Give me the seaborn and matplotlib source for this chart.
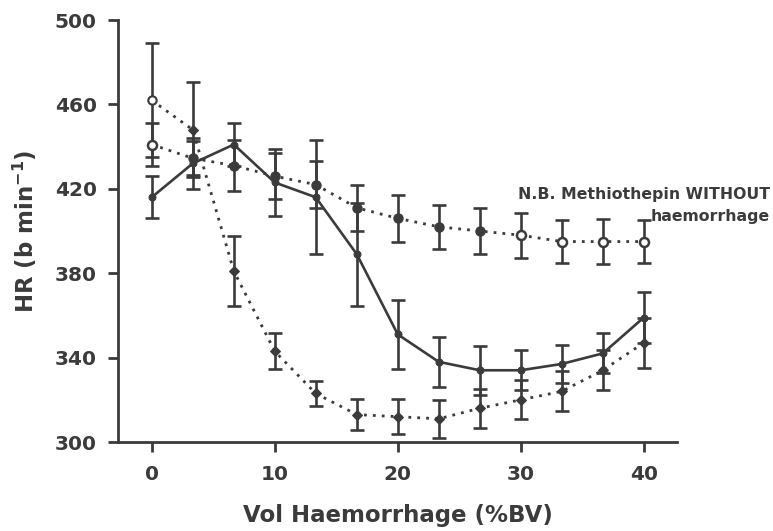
import numpy as np
import pandas as pd
import matplotlib
matplotlib.use("Agg")
import matplotlib.pyplot as plt
import seaborn as sns

# Volume of blood withdrawn (% of blood volume)
vol_bv = [0, 3.33, 6.67, 10, 13.33, 16.67, 20, 23.33, 26.67, 30, 33.33, 36.67, 40]

# Heart rate (b/min), mean and SEM for each group
hr_haem = [416, 432, 441, 423, 416, 389, 351, 338, 334, 334, 337, 342, 359]
sem_haem = [10, 12, 10, 16, 27, 24.5, 16.5, 12, 11.5, 9.5, 9, 9.5, 12]

hr_meth_haem = [462, 448, 381, 343, 323, 313, 312, 311, 316, 320, 324, 334, 347]
sem_meth_haem = [27, 22.5, 16.7, 8.5, 6, 7.5, 8.3, 9, 9.3, 9.3, 9.5, 9.5, 11.7]

hr_meth_only = [441, 434.5, 431, 426, 422, 411, 406, 402, 400, 398, 395, 395, 395]
sem_meth_only = [10, 8, 12, 11, 11, 11, 11, 10.3, 10.7, 10.7, 10, 10.6, 10]

y_ticks = [300, 340, 380, 420, 460, 500]
x_ticks = [0, 10, 20, 30, 40]

note_text = "N.B. Methiothepin WITHOUT\nhaemorrhage"
x_label = "Vol Haemorrhage (%BV)"
y_label = r"HR (b min$^{\mathbf{-1}}$)"

ink = "#3b3b3b"

sns.set_theme(style="white")
plt.rcParams["font.family"] = ["DejaVu Sans"]
plt.rcParams["font.weight"] = "bold"
plt.rcParams["mathtext.fontset"] = "dejavusans"

df = pd.DataFrame({
    "vol": vol_bv,
    "haem": hr_haem,
    "meth_haem": hr_meth_haem,
    "meth_only": hr_meth_only,
})

fig = plt.figure(figsize=(7.73, 5.31), dpi=100)
ax = fig.add_axes([0.1527, 0.1676, 0.7231, 0.7947])

dotted = (0, (1.0, 2.2))

# Error bars
for y, e in [(hr_haem, sem_haem), (hr_meth_haem, sem_meth_haem),
             (hr_meth_only, sem_meth_only)]:
    ax.errorbar(vol_bv, y, yerr=e, fmt="none", ecolor=ink, elinewidth=1.9,
                capsize=5.2, capthick=1.9, zorder=2)

# Haemorrhage alone: solid line
sns.lineplot(data=df, x="vol", y="haem", ax=ax, color=ink, linewidth=1.9,
             marker="o", markersize=5, markeredgecolor=ink, zorder=3)

# Methiothepin + haemorrhage: dotted line, filled diamonds
sns.lineplot(data=df, x="vol", y="meth_haem", ax=ax, color=ink, linewidth=2.0,
             linestyle=dotted, marker="D", markersize=5.5,
             markeredgecolor=ink, markevery=list(range(1, len(vol_bv))), zorder=3)
ax.plot(vol_bv[:1], hr_meth_haem[:1], linestyle="none", marker="o",
        markersize=6, markerfacecolor="white", markeredgecolor=ink,
        markeredgewidth=1.5, zorder=4)

# Methiothepin without haemorrhage: dotted line
sns.lineplot(data=df, x="vol", y="meth_only", ax=ax, color=ink, linewidth=2.0,
             linestyle=dotted, zorder=3)
filled = np.array([False, True, True, True, True, True, True, True, True,
                   False, False, False, False])
vx = np.asarray(vol_bv)
vy = np.asarray(hr_meth_only)
ax.plot(vx[filled], vy[filled], linestyle="none", marker="o", markersize=6.5,
        markerfacecolor=ink, markeredgecolor=ink, zorder=4)
ax.plot(vx[~filled], vy[~filled], linestyle="none", marker="o", markersize=6.5,
        markerfacecolor="white", markeredgecolor=ink, markeredgewidth=1.8,
        zorder=4)

ax.set_xlim(-2.74, 42.7)
ax.set_ylim(300, 500)
ax.set_xticks(x_ticks)
ax.set_yticks(y_ticks)
ax.set_xticklabels([str(t) for t in x_ticks])
ax.set_yticklabels([str(t) for t in y_ticks])

for side in ["top", "right"]:
    ax.spines[side].set_visible(False)
for side in ["left", "bottom"]:
    ax.spines[side].set_color(ink)
    ax.spines[side].set_linewidth(2.0)

ax.tick_params(axis="both", which="major", direction="out", length=7.2,
               width=2.0, color=ink, labelcolor=ink, labelsize=14.5)
ax.tick_params(axis="y", left=True, pad=8)
ax.tick_params(axis="x", bottom=True, pad=9)
for lbl in ax.get_xticklabels() + ax.get_yticklabels():
    lbl.set_fontweight("bold")

ax.set_xlabel(x_label, fontsize=16.5, fontweight="bold", color=ink)
ax.set_ylabel(y_label, fontsize=16.5, fontweight="bold", color=ink)
ax.xaxis.set_label_coords(0.5, -0.148)
ax.yaxis.set_label_coords(-0.142, 0.5)

fig.text(0.996, 0.648, note_text, ha="right", va="top", fontsize=11.3,
         fontweight="bold", color=ink, linespacing=1.55,
         multialignment="right")

ax.set_facecolor("white")
fig.patch.set_facecolor("white")
fig.savefig("out.png", dpi=100, facecolor="white")
